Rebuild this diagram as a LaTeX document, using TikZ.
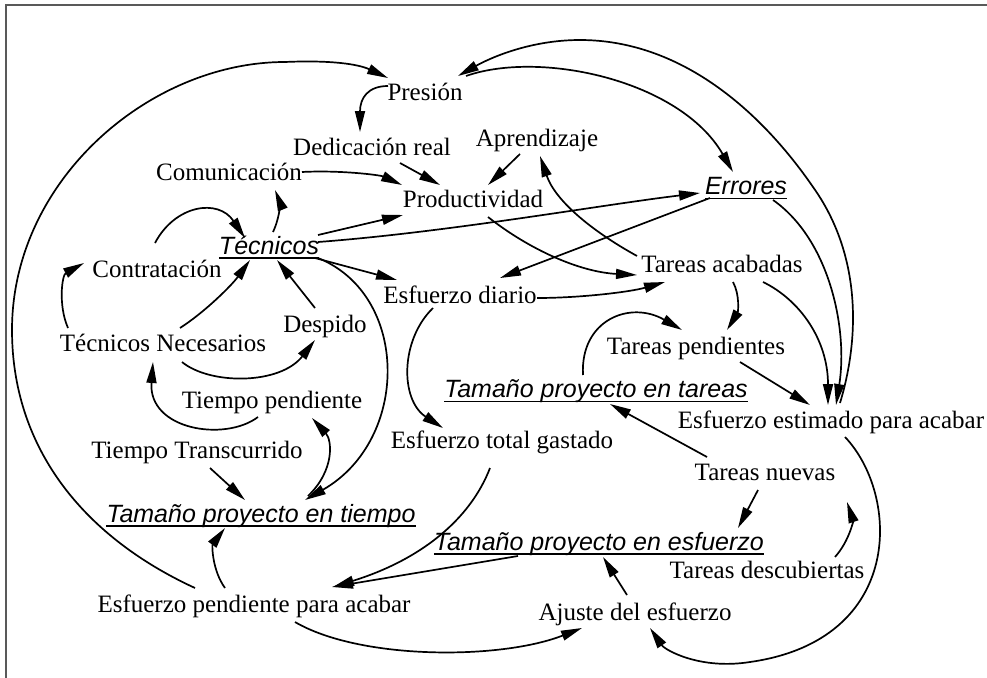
\documentclass[tikz,border=0pt]{standalone}
\usepackage{fontspec}
\setmainfont{Liberation Serif}
\setsansfont{Liberation Sans}
\usetikzlibrary{arrows.meta,calc}

\tikzset{
  lbl/.style={anchor=base, inner sep=0pt, font=\rmfamily\fontsize{25}{30}\selectfont},
  lvl/.style={anchor=base, inner sep=0pt, font=\sffamily\itshape\fontsize{25}{30}\selectfont},
  arr/.style={line width=1.7pt, -{Triangle[length=21pt,width=10pt]}},
  uline/.style={line width=1.5pt},
  frame/.style={line width=2pt, draw=black!65}
}

\begin{document}
\begin{tikzpicture}[x=1pt,y=-1pt]
\useasboundingbox (0,0) rectangle (987,677);
\draw[frame] (6,700) -- (6,5) -- (1000,5);

% variables
\node[lbl] (pres)  at (425,100) {Presión};
\node[lbl] (ded)   at (372,155) {Dedicación real};
\node[lbl] (apr)   at (537,146) {Aprendizaje};
\node[lbl] (com)   at (229,180) {Comunicación};
\node[lbl] (prod)  at (473,207) {Productividad};
\node[lvl] (err)   at (746,194) {Errores};
\node[lvl] (tec)   at (269,254) {Técnicos};
\node[lbl] (contr) at (157,277) {Contratación};
\node[lbl] (desp)  at (325,332) {Despido};
\node[lbl] (tnec)  at (163,351) {Técnicos Necesarios};
\node[lbl] (tpend) at (272,408) {Tiempo pendiente};
\node[lbl] (ttr)   at (197,458) {Tiempo Transcurrido};
\node[lbl] (ed)    at (460,303) {Esfuerzo diario};
\node[lbl] (ta)    at (722,272) {Tareas acabadas};
\node[lbl] (tpe)   at (696,354) {Tareas pendientes};
\node[lvl] (tpta)  at (596,397) {Tamaño proyecto en tareas};
\node[lbl] (eea)   at (831,428) {Esfuerzo estimado para acabar};
\node[lbl] (etg)   at (502,448) {Esfuerzo total gastado};
\node[lvl] (tpti)  at (261,522) {Tamaño proyecto en tiempo};
\node[lbl] (tnue)  at (765,480) {Tareas nuevas};
\node[lvl] (tpes)  at (599,550) {Tamaño proyecto en esfuerzo};
\node[lbl] (tdesc) at (767,578) {Tareas descubiertas};
\node[lbl] (epa)   at (254,612) {Esfuerzo pendiente para acabar};
\node[lbl] (aj)    at (635,620) {Ajuste del esfuerzo};

% underlines of the levels
\foreach \n/\d in {err/4.5,tec/4,tpta/4.5,tpti/4,tpes/4}
  \draw[uline] ($(\n.base west)+(0,\d)$) -- ($(\n.base east)+(0,\d)$);

% links
\draw[arr] ($(epa.base)+(-59,-24)$) .. controls (80,535) and (12,445) .. (12,330)
   .. controls (12,180) and (150,62) .. (285,62)
   .. controls (330,60) and (358,64) .. ($(pres.base)+(-37,-22)$);
\draw[arr] ($(pres.base)+(-37,-14)$) .. controls (368,86) and (360,98) .. ($(ded.base)+(-12,-23)$);
\draw[arr] ($(eea.base)+(9,-25)$) .. controls (862,330) and (858,250) .. (813,187)
   .. controls (760,110) and (680,40) .. (580,40)
   .. controls (530,40) and (490,58) .. ($(pres.base)+(33,-24)$);
\draw[arr] ($(pres.base)+(41,-24)$) .. controls (540,50) and (680,80) .. ($(err.base)+(-13,-22)$);
\draw[arr] ($(ded.base)+(28,8)$) -- ($(prod.base)+(-33,-22)$);
\draw[arr] ($(apr.base)+(-17,8)$) -- ($(prod.base)+(15,-22)$);
\draw[arr] ($(com.base)+(73,-8)$) .. controls (340,170) and (380,175) .. ($(prod.base)+(-71,-22)$);
\draw[arr] ($(tec.base)+(4,-22)$) .. controls (281,215) and (279,200) .. ($(com.base)+(46,10)$);
\draw[arr] ($(contr.base)+(-2,-34)$) .. controls (175,205) and (218,198) .. ($(tec.base)+(-24,-16)$);
\draw[arr] ($(tnec.base)+(-95,-23)$) .. controls (58,305) and (62,275) .. ($(contr.base)+(-73,-14)$);
\draw[arr] ($(tnec.base)+(17,-23)$) .. controls (205,312) and (232,285) .. ($(tec.base)+(-19,6)$);
\draw[arr] ($(desp.base)+(-10,-24)$) -- ($(tec.base)+(8,6)$);
\draw[arr] ($(tnec.base)+(19,11)$) .. controls (210,385) and (280,385) .. ($(desp.base)+(-10,8)$);
\draw[arr] ($(tpend.base)+(-14,9)$) .. controls (225,442) and (148,430) .. ($(tnec.base)+(-10,11)$);
\draw[arr] ($(tec.base)+(49,4)$) .. controls (410,295) and (410,440) .. ($(tpti.base)+(44,-22)$);
\draw[arr] ($(tpti.base)+(47,-26)$) .. controls (335,470) and (332,440) .. ($(tpend.base)+(40,10)$);
\draw[arr] ($(ttr.base)+(13,10)$) -- ($(tpti.base)+(-16,-22)$);
\draw[arr] ($(epa.base)+(-29,-24)$) .. controls (212,570) and (212,545) .. ($(tpti.base)+(-36,6)$);
\draw[arr] ($(tec.base)+(49,-19)$) -- ($(prod.base)+(-70,8)$);
\draw[arr] ($(tec.base)+(49,-12)$) .. controls (450,232) and (600,205) .. ($(err.base)+(-46,-1)$);
\draw[arr] ($(err.base)+(-36,4)$) -- ($(ed.base)+(40,-25)$);
\draw[arr] ($(tec.base)+(46,4)$) -- ($(ed.base)+(-63,-23)$);
\draw[arr] ($(prod.base)+(15,10)$) .. controls (530,250) and (580,272) .. ($(ta.base)+(-85,3)$);
\draw[arr] ($(ed.base)+(77,-5)$) .. controls (580,298) and (630,292) .. ($(ta.base)+(-57,10)$);
\draw[arr] ($(ta.base)+(-85,-16)$) .. controls (590,230) and (555,200) .. ($(apr.base)+(3,10)$);
\draw[arr] ($(ta.base)+(11,10)$) .. controls (740,295) and (738,312) .. ($(tpe.base)+(31,-24)$);
\draw[arr] ($(ta.base)+(41,10)$) .. controls (800,300) and (828,340) .. ($(eea.base)+(-3,-23)$);
\draw[arr] ($(err.base)+(27,6)$) .. controls (830,240) and (848,330) .. ($(eea.base)+(5,-23)$);
\draw[arr] ($(tpe.base)+(44,8)$) -- ($(eea.base)+(-21,-23)$);
\draw[arr] ($(tpta.base)+(-13,-22)$) .. controls (580,320) and (630,300) .. ($(tpe.base)+(-14,-24)$);
\draw[arr] ($(tnue.base)+(-58,-23)$) -- ($(tpta.base)+(14,7)$);
\draw[arr] ($(eea.base)+(14,9)$) .. controls (900,495) and (905,640) .. (750,662)
   .. controls (700,670) and (665,650) .. ($(aj.base)+(15,8)$);
\draw[arr] ($(epa.base)+(41,10)$) .. controls (360,660) and (500,660) .. ($(aj.base)+(-53,8)$);
\draw[arr] ($(aj.base)+(-8,-25)$) -- ($(tpes.base)+(4,7)$);
\draw[arr] ($(tnue.base)+(-7,10)$) -- ($(tpes.base)+(139,-22)$);
\draw[arr] ($(tdesc.base)+(68,-21)$) .. controls (850,540) and (853,520) .. ($(tnue.base)+(82,22)$);
\draw[arr] ($(tpes.base)+(-81,6)$) -- ($(epa.base)+(78,-25)$);
\draw[arr] ($(etg.base)+(-12,20)$) .. controls (470,520) and (420,560) .. ($(epa.base)+(79,-25)$);
\draw[arr] ($(ed.base)+(-27,5)$) .. controls (400,340) and (400,400) .. ($(etg.base)+(-59,-20)$);
\end{tikzpicture}
\end{document}
